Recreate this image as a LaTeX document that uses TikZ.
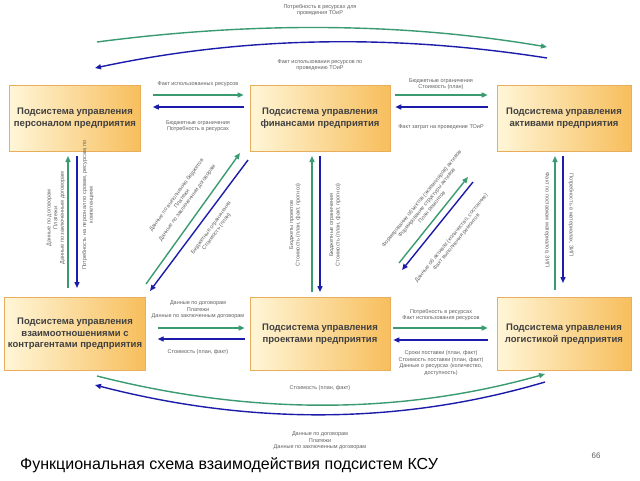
\documentclass[tikz,border=0pt]{standalone}
\usepackage{fontspec}
\setmainfont{Liberation Sans}
\usetikzlibrary{arrows.meta}
\definecolor{gr}{HTML}{3A9A70}
\definecolor{bl}{HTML}{1C1CAA}
\definecolor{lbl}{HTML}{606060}
\definecolor{boxA}{HTML}{FFF6D8}
\definecolor{boxB}{HTML}{F7BE5C}
\definecolor{boxE}{HTML}{E8AE5C}
\begin{document}
\begin{tikzpicture}[x=1pt,y=-1pt,
 sub/.style={rectangle, minimum width=131pt, draw=boxE, line width=0.6pt, left color=boxA, right color=boxB, align=center, font=\fontsize{9.5}{11.5}\selectfont\bfseries, text=black!75},
 ga/.style={draw=gr, line width=1.4pt, -{Triangle[length=6pt,width=5pt]}},
 ba/.style={draw=bl, line width=1.4pt, -{Triangle[length=6pt,width=5pt]}},
 lab/.style={font=\fontsize{5.5}{6.6}\selectfont, text=lbl, align=center, inner sep=0pt}]
\useasboundingbox (0,0) rectangle (640,480);
\fill[white] (0,0) rectangle (640,480);

% boxes
\node[sub, minimum height=66pt] (b1) at (75,118) {Подсистема управления\\персоналом предприятия};
\node[sub, minimum height=66pt, minimum width=140pt] (b2) at (320,118) {Подсистема управления\\финансами предприятия};
\node[sub, minimum height=66pt, minimum width=134pt] (b3) at (564,118) {Подсистема управления\\активами предприятия};
\node[sub, minimum height=73pt] (b4) at (75,334) {Подсистема управления\\взаимоотношениями с\\контрагентами предприятия};
\node[sub, minimum height=73pt, minimum width=140pt] (b5) at (320,334) {Подсистема управления\\проектами предприятия};
\node[sub, minimum height=73pt, minimum width=134pt] (b6) at (564,334) {Подсистема управления\\логистикой предприятия};

% coordinates
\coordinate (t1) at (97,42);  \coordinate (t2) at (547,47);
\coordinate (t3) at (547,58); \coordinate (t4) at (95,68);
\coordinate (u1) at (97,376); \coordinate (u2) at (545,374);
\coordinate (u3) at (545,382); \coordinate (u4) at (95,385);

% top arcs
\draw[ga] (t1) .. controls (250,22) and (400,22) .. (t2);
\draw[ba] (t3) .. controls (400,35) and (250,35) .. (t4);
\node[lab] (l1) at (320,10) {Потребность в ресурсах для\\проведения ТОиР};
\node[lab] (l2) at (320,65) {Факт использования ресурсов по\\проведению ТОиР};

% bottom arcs
\draw[ga] (u1) .. controls (250,415) and (400,415) .. (u2);
\draw[ba] (u3) .. controls (400,425) and (250,425) .. (u4);
\node[lab] (l3) at (320,388) {Стоимость (план, факт)};
\node[lab] (l4) at (320,441) {Данные по договорам\\Платежи\\Данные по заключенным договорам};

% top row horizontal
\draw[ga] ([shift={(12,-23)}]b1.east) -- ([shift={(-6,-23)}]b2.west);
\draw[ba] ([shift={(-6,-11)}]b2.west) -- ([shift={(12,-11)}]b1.east);
\node[lab] (l5) at (198,84) {Факт использованных ресурсов};
\node[lab] (l6) at (198,126) {Бюджетные ограничения\\Потребность в ресурсах};

\draw[ga] ([shift={(5,-23)}]b2.east) -- ([shift={(-9,-23)}]b3.west);
\draw[ba] ([shift={(-9,-11)}]b3.west) -- ([shift={(5,-11)}]b2.east);
\node[lab] (l7) at (441,84) {Бюджетные ограничения\\Стоимость (план)};
\node[lab] (l8) at (441,127) {Факт затрат на проведение ТОиР};

% bottom row horizontal
\draw[ga] ([shift={(12,-6)}]b4.east) -- ([shift={(-5,-6)}]b5.west);
\draw[ba] ([shift={(-5,5)}]b5.west) -- ([shift={(12,5)}]b4.east);
\node[lab] (l9) at (198,310) {Данные по договорам\\Платежи\\Данные по заключенным договорам};
\node[lab] (l10) at (198,352) {Стоимость (план, факт)};

\draw[ga] ([shift={(3,-6)}]b5.east) -- ([shift={(-9,-6)}]b6.west);
\draw[ba] ([shift={(-9,6)}]b6.west) -- ([shift={(3,6)}]b5.east);
\node[lab] (l11) at (441,315) {Потребность в ресурсах\\Факт использования ресурсов};
\node[lab] (l12) at (441,363) {Сроки поставки (план, факт)\\Стоимость поставки (план, факт)\\Данные о ресурсах (количество,\\доступность)};

% left vertical
\draw[ga] (68,288) -- (68,156);
\draw[ba] (77,156) -- (77,288);
\node[lab, rotate=90] (l13) at (56,218) {Данные по договорам\\Платежи\\Данные по заключенным договорам};
\node[lab, rotate=90] (l14) at (88,205) {Потребность на персонал по срокам, ресурсам, по\\компетенциям};

% middle vertical
\draw[ga] (312,292) -- (312,156);
\draw[ba] (320,156) -- (320,292);
\node[lab, rotate=90] (l15) at (295,225) {Бюджеты проектов\\Стоимость (план, факт, прогноз)};
\node[lab, rotate=90] (l16) at (335,225) {Бюджетные ограничения\\Стоимость (план, факт, прогноз)};

% right vertical
\draw[ga] (555,290) -- (555,156);
\draw[ba] (563,156) -- (563,283);
\node[lab, rotate=-90] (l17) at (547,220) {Факт по поставкам материалов, ЗИП};
\node[lab, rotate=-90] (l18) at (571,215) {Потребность в материалах, ЗИП};

% left diagonal (contragents <-> finance)
\draw[ga] (146,284) -- (240,153);
\draw[ba] (248,160) -- (150,291);
\node[lab, rotate=54] (l19) at (182,199) {Данные по выполнению бюджетов\\Платежи\\Данные по заключенным договорам};
\node[lab, rotate=54] (l20) at (214,230) {Бюджетные ограничения\\Стоимость (план)};

% right diagonal (projects <-> assets)
\draw[ga] (399,263) -- (468,177);
\draw[ba] (473,182) -- (402,270);
\node[lab, rotate=51] (l21) at (427,203) {Формирование объектов (экземпляров) активов\\Формирование структуры активов\\План ремонтов};
\node[lab, rotate=51] (l22) at (454,240) {Данные об активах (количество, состояние)\\Факт выполнения ремонтов};

% title
\node[anchor=west, font=\fontsize{16}{18}\selectfont, inner sep=0pt] (title) at (20,465) {Функциональная схема взаимодействия подсистем КСУ};
\node[font=\fontsize{8}{9}\selectfont, text=lbl, inner sep=0pt] (pg) at (596,456) {66};
\end{tikzpicture}
\end{document}
